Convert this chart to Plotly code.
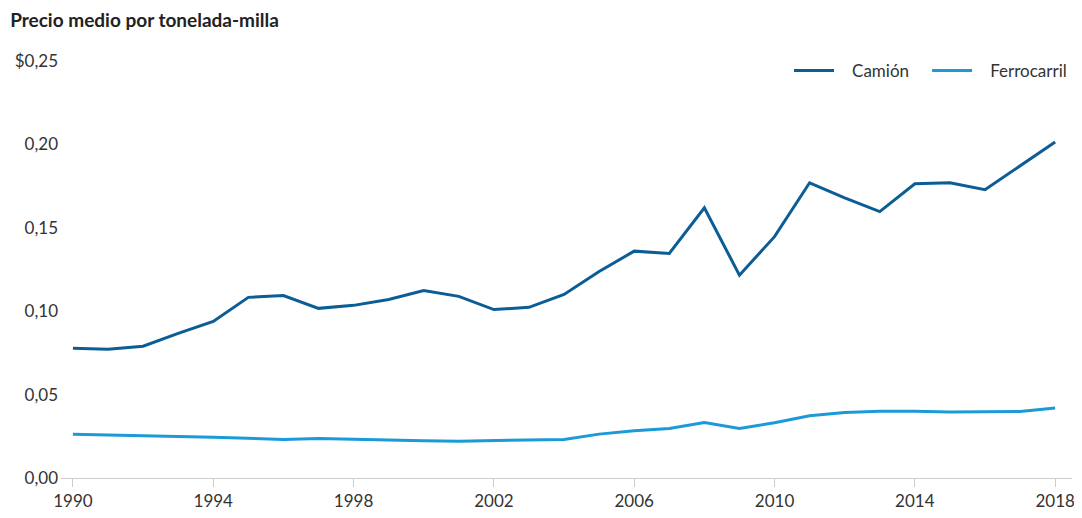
import plotly.graph_objects as go

years = list(range(1990, 2019))
camion = [0.0778, 0.0772, 0.0790, 0.0867, 0.0939, 0.1083, 0.1094, 0.1017, 0.1035, 0.1070,
          0.1124, 0.1089, 0.1010, 0.1023, 0.1100, 0.1238, 0.1360, 0.1346, 0.1620, 0.1216,
          0.1447, 0.1770, 0.1680, 0.1597, 0.1764, 0.1770, 0.1728, 0.1874, 0.2015]
ferrocarril = [0.0263, 0.0257, 0.0255, 0.0249, 0.0245, 0.0237, 0.0231, 0.0237, 0.0231, 0.0225,
               0.0223, 0.0221, 0.0223, 0.0225, 0.0231, 0.0263, 0.0283, 0.0297, 0.0333, 0.0297,
               0.0331, 0.0373, 0.0393, 0.0400, 0.0400, 0.0395, 0.0395, 0.0399, 0.0420]
y_ticks = [0, 0.05, 0.10, 0.15, 0.20, 0.25]
y_labels = ["0,00", "0,05", "0,10", "0,15", "0,20", "$0,25"]
x_ticks = [1990, 1994, 1998, 2002, 2006, 2010, 2014, 2018]

fig = go.Figure()
fig.add_trace(go.Scatter(x=years, y=camion, mode="lines",
                         name="&nbsp;&nbsp;&nbsp;Camión&nbsp;&nbsp;&nbsp;",
                         line=dict(color="#0b5d96", width=3)))
fig.add_trace(go.Scatter(x=years, y=ferrocarril, mode="lines",
                         name="&nbsp;&nbsp;&nbsp;Ferrocarril",
                         line=dict(color="#1a9ad6", width=3)))

fig.update_layout(
    width=1074, height=510,
    margin=dict(l=52, r=7, t=53, b=39),
    paper_bgcolor="white", plot_bgcolor="white",
    font=dict(family="Lato, sans-serif", size=17, color="#333333"),
    title=dict(text="<b>Precio medio por tonelada-milla</b>", x=0.002, xanchor="left",
               y=0.976, yanchor="middle",
               font=dict(family="Lato, sans-serif", size=19, color="#222222")),
    legend=dict(orientation="h", x=1.0, xanchor="right", y=0.976, yanchor="middle",
                font=dict(size=17, color="#333333"), bgcolor="rgba(0,0,0,0)",
                itemwidth=40),
    showlegend=True,
)
fig.update_xaxes(range=[1989.66, 2018.48], tickvals=x_ticks, showgrid=False,
                 showline=True, linecolor="#cccccc", linewidth=1,
                 ticks="outside", ticklen=8, tickcolor="#cccccc",
                 zeroline=False)
fig.update_yaxes(range=[0, 0.25], tickvals=y_ticks, ticktext=y_labels,
                 showgrid=False, zeroline=False, showline=False, ticks="",
                 ticklabelstandoff=2)

fig.write_html("out.html")
